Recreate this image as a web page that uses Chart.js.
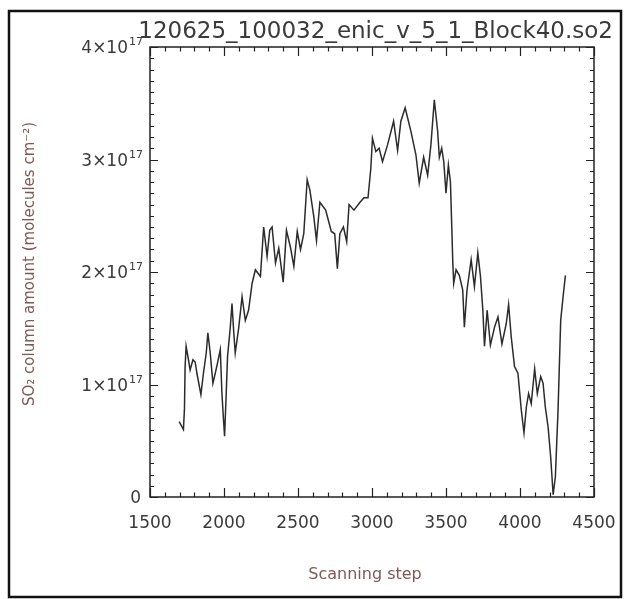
<!DOCTYPE html>
<html>
<head>
<meta charset="utf-8">
<script src="https://cdn.jsdelivr.net/npm/chart.js@4/dist/chart.umd.min.js"></script>
<style>
    html, body { margin: 0; padding: 0; background: #fff; }
    #wrap { position: relative; width: 624px; height: 599px; }
</style>
</head>
<body>
<div id="wrap"><canvas id="so2Chart" width="624" height="599"></canvas></div>
<script>
// chart text
const chartTitle = '120625_100032_enic_v_5_1_Block40.so2';
const xTitle = 'Scanning step';
const yTitle = 'SO\u2082 column amount (molecules cm\u207B\u00B2)';

// scanning step of each sample
const scanSteps = [
    1697, 1726, 1733, 1737, 1744, 1760, 1771, 1790, 1805, 1817,
    1844, 1861, 1880, 1891, 1907, 1925, 1941, 1956, 1975, 1986,
    1997, 2004, 2015, 2024, 2042, 2054, 2065, 2076, 2099, 2122,
    2144, 2166, 2190, 2212, 2246, 2268, 2291, 2309, 2325, 2348,
    2370, 2400, 2422, 2449, 2472, 2495, 2517, 2539, 2562, 2580,
    2607, 2625, 2648, 2687, 2725, 2748, 2766, 2783, 2807, 2829,
    2845, 2878, 2919, 2946, 2973, 2992, 3003, 3026, 3048, 3071,
    3105, 3146, 3173, 3195, 3224, 3263, 3297, 3319, 3349, 3376,
    3398, 3421, 3443, 3455, 3471, 3485, 3500, 3516, 3530, 3539,
    3546, 3552, 3568, 3590, 3613, 3624, 3642, 3670, 3692, 3715,
    3733, 3749, 3760, 3778, 3800, 3828, 3851, 3878, 3907, 3923,
    3941, 3963, 3986, 4009, 4027, 4043, 4058, 4076, 4099, 4117,
    4140, 4156, 4171, 4190, 4207, 4224, 4239, 4257, 4275, 4291,
    4307
];

// SO2 column amount, in units of 1e17 molecules cm^-2
const so2Values = [
    0.67, 0.60, 0.79, 1.15, 1.34, 1.22, 1.13, 1.22, 1.20, 1.10,
    0.91, 1.10, 1.28, 1.46, 1.28, 1.01, 1.10, 1.19, 1.31, 0.92,
    0.68, 0.54, 0.92, 1.25, 1.50, 1.72, 1.48, 1.28, 1.50, 1.78,
    1.57, 1.66, 1.90, 2.02, 1.96, 2.40, 2.14, 2.37, 2.40, 2.08,
    2.21, 1.91, 2.37, 2.22, 2.05, 2.36, 2.20, 2.34, 2.82, 2.73,
    2.49, 2.28, 2.62, 2.55, 2.36, 2.34, 2.03, 2.34, 2.40, 2.27,
    2.60, 2.55, 2.62, 2.66, 2.66, 2.92, 3.19, 3.07, 3.10, 2.98,
    3.13, 3.34, 3.08, 3.34, 3.46, 3.25, 3.04, 2.79, 3.02, 2.86,
    3.13, 3.53, 3.26, 3.02, 3.10, 2.98, 2.70, 2.95, 2.80, 2.40,
    2.08, 1.90, 2.02, 1.97, 1.84, 1.51, 1.84, 2.11, 1.87, 2.17,
    1.96, 1.66, 1.34, 1.66, 1.35, 1.51, 1.60, 1.36, 1.54, 1.71,
    1.42, 1.16, 1.10, 0.77, 0.57, 0.80, 0.92, 0.83, 1.14, 0.92,
    1.07, 1.01, 0.80, 0.62, 0.36, 0.02, 0.18, 0.77, 1.57, 1.78,
    1.97
];

// axis ticks
const xTicks = [1500, 2000, 2500, 3000, 3500, 4000, 4500];
const xMinorStep = 100;
const yTicks = [0, 1, 2, 3, 4];          // multiples of 1e17
const yMinorStep = 0.1;
const yScaleFactor = 1e17;

const labelFont = '17px "DejaVu Sans"';
const supFont = '11px "DejaVu Sans"';

// draws the IDL-style box with inward ticks, y labels, titles and outer frame
const framePlugin = {
    id: 'frame',
    afterDraw(chart) {
        const ctx = chart.ctx;
        const area = chart.chartArea;
        const xs = chart.scales.x;
        const ys = chart.scales.y;
        ctx.save();

        // outer frame
        ctx.strokeStyle = '#111';
        ctx.lineWidth = 2.5;
        ctx.strokeRect(9, 11, 612, 586);

        // plot box
        ctx.strokeStyle = '#222';
        ctx.lineWidth = 1.5;
        ctx.strokeRect(area.left, area.top, area.right - area.left, area.bottom - area.top);

        ctx.lineWidth = 1.2;
        ctx.beginPath();
        // x ticks, bottom and top
        for (let v = xTicks[0]; v <= xTicks[xTicks.length - 1]; v += xMinorStep) {
            const px = Math.round(xs.getPixelForValue(v)) + 0.5;
            const len = xTicks.includes(v) ? 9 : 4.5;
            ctx.moveTo(px, area.bottom);
            ctx.lineTo(px, area.bottom - len);
            ctx.moveTo(px, area.top);
            ctx.lineTo(px, area.top + len);
        }
        // y ticks, left and right
        for (let i = 0; i <= Math.round(yTicks[yTicks.length - 1] / yMinorStep); i++) {
            const v = i * yMinorStep;
            const py = Math.round(ys.getPixelForValue(v * yScaleFactor)) + 0.5;
            const len = i % 10 === 0 ? 8 : 4;
            ctx.moveTo(area.left, py);
            ctx.lineTo(area.left + len, py);
            ctx.moveTo(area.right, py);
            ctx.lineTo(area.right - len, py);
        }
        ctx.stroke();

        // y tick labels with superscript exponent
        ctx.fillStyle = '#3a3a3a';
        ctx.textBaseline = 'alphabetic';
        yTicks.forEach(function (t) {
            const py = ys.getPixelForValue(t * yScaleFactor);
            const right = area.left - 7;
            ctx.textAlign = 'right';
            if (t === 0) {
                ctx.font = labelFont;
                ctx.fillText('0', right - 2, py + 6);
                return;
            }
            ctx.font = supFont;
            const supW = ctx.measureText('17').width;
            ctx.fillText('17', right, py - 2);
            ctx.font = labelFont;
            ctx.fillText(t + '\u00D710', right - supW - 1, py + 6);
        });

        // title
        ctx.font = '23px "DejaVu Sans"';
        ctx.fillStyle = '#3a3a3a';
        ctx.textAlign = 'right';
        ctx.fillText(chartTitle, 613, 38);

        // axis titles
        ctx.fillStyle = '#7d5a56';
        ctx.font = '16px "DejaVu Sans"';
        ctx.textAlign = 'center';
        ctx.textBaseline = 'middle';
        ctx.fillText(xTitle, 365, 575);

        ctx.translate(30, 264);
        ctx.rotate(-Math.PI / 2);
        ctx.font = '15px "DejaVu Sans"';
        ctx.fillText(yTitle, 0, 0);

        ctx.restore();
    }
};

const points = scanSteps.map(function (s, i) {
    return { x: s, y: so2Values[i] * yScaleFactor };
});

new Chart(document.getElementById('so2Chart').getContext('2d'), {
    type: 'line',
    data: {
        datasets: [{
            data: points,
            borderColor: '#2b2b2b',
            borderWidth: 1.5,
            pointRadius: 0,
            tension: 0,
            fill: false
        }]
    },
    options: {
        responsive: false,
        animation: false,
        devicePixelRatio: 1,
        layout: { padding: { top: 47, right: 30, left: 0, bottom: 0 } },
        plugins: {
            legend: { display: false },
            tooltip: { enabled: false },
            title: { display: false }
        },
        scales: {
            x: {
                type: 'linear',
                min: xTicks[0],
                max: xTicks[xTicks.length - 1],
                afterBuildTicks: function (scale) {
                    scale.ticks = xTicks.map(function (v) { return { value: v }; });
                },
                afterFit: function (scale) {
                    scale.height = 102;
                    scale.paddingLeft = 0;
                    scale.paddingRight = 0;
                },
                grid: { display: false, drawTicks: false },
                border: { display: false },
                ticks: {
                    font: { family: 'DejaVu Sans', size: 17 },
                    color: '#3a3a3a',
                    padding: 16,
                    maxRotation: 0,
                    autoSkip: false,
                    callback: function (v) { return String(v); }
                }
            },
            y: {
                type: 'linear',
                min: 0,
                max: yTicks[yTicks.length - 1] * yScaleFactor,
                afterBuildTicks: function (scale) {
                    scale.ticks = yTicks.map(function (v) { return { value: v * yScaleFactor }; });
                },
                afterFit: function (scale) {
                    scale.width = 150;
                    scale.paddingTop = 0;
                    scale.paddingBottom = 0;
                },
                grid: { display: false, drawTicks: false },
                border: { display: false },
                ticks: { display: false }
            }
        }
    },
    plugins: [framePlugin]
});
</script>
</body>
</html>
